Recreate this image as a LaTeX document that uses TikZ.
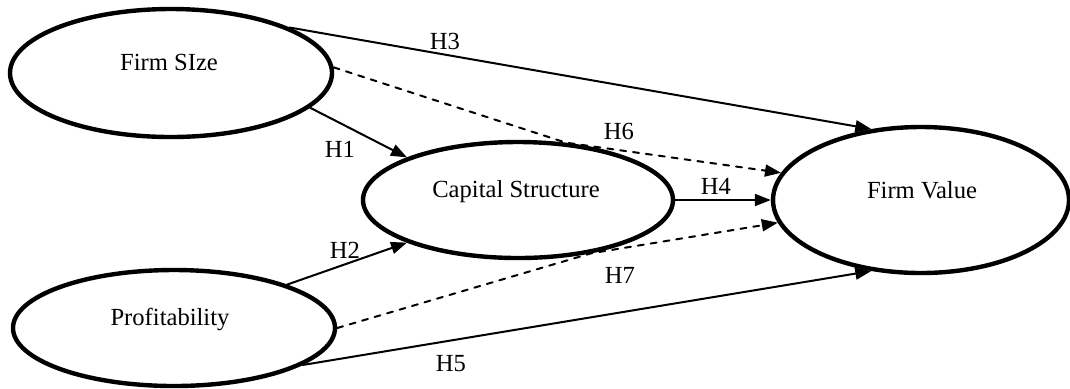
\documentclass[tikz,border=0pt]{standalone}
\usepackage{fontspec}
\setmainfont{Liberation Serif}
\usetikzlibrary{shapes.geometric,arrows.meta}

\tikzset{
  latent/.style={ellipse, draw, line width=2.2pt, inner sep=0pt},
  link/.style={line width=1pt, -{Triangle[length=8pt, width=6pt]}},
  mediated/.style={dash pattern=on 3pt off 3.5pt},
  lbl/.style={anchor=base, inner sep=0pt},
  hyp/.style={inner sep=0pt}
}

\begin{document}
\begin{tikzpicture}[x=0.5pt, y=-0.5pt, line join=round, line cap=round, font=\fontsize{12.3}{14}\selectfont]
\useasboundingbox (0,0) rectangle (1070,388);
% constructs
\node[latent, minimum width=161pt, minimum height=64pt] (size) at (171,73) {};
\node[latent, minimum width=161pt, minimum height=58pt] (profit) at (174,328) {};
\node[latent, minimum width=155pt, minimum height=58pt] (capital) at (518,200) {};
\node[latent, minimum width=148pt, minimum height=73pt] (value) at (921,200) {};
\node[lbl] (size-t) at (169,70) {Firm SIze};
\node[lbl] (profit-t) at (170,325) {Profitability};
\node[lbl] (capital-t) at (516,197) {Capital Structure};
\node[lbl] (value-t) at (922,198) {Firm Value};
% direct paths
\draw[link] (size.-14) -- (capital.159);
\draw[link] (profit.21) -- (capital.201);
\draw[link] (size.21) -- (value.125);
\draw[link] (capital.0) -- (value.180);
\draw[link] (profit.-16) -- (value.235);
% indirect paths, bent on the mediator
\coordinate (top-bend) at (capital.50);
\coordinate (bot-bend) at (capital.-36);
\draw[link, mediated] (size.2) -- (top-bend) -- (value.169);
\draw[link, mediated] (profit.0) -- (bot-bend) -- (value.189);
% hypotheses
\node[hyp] (h1) at (340,149) {H1};
\node[hyp] (h2) at (345,250) {H2};
\node[hyp] (h3) at (445,41) {H3};
\node[hyp] (h4) at (716,186) {H4};
\node[hyp] (h5) at (451,364) {H5};
\node[hyp] (h6) at (619,131) {H6};
\node[hyp] (h7) at (620,275) {H7};
\end{tikzpicture}
\end{document}
